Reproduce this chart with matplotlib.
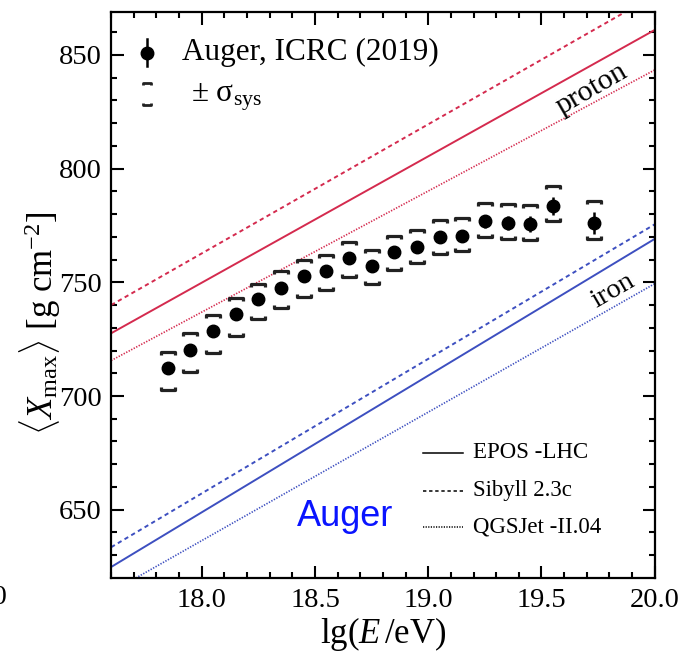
import numpy as np
import matplotlib.pyplot as plt
from matplotlib.path import Path

plt.rcParams['font.family'] = ['Liberation Serif', 'DejaVu Serif']
plt.rcParams['mathtext.fontset'] = 'custom'
plt.rcParams['mathtext.rm'] = 'Liberation Serif'
plt.rcParams['mathtext.it'] = 'Liberation Serif:italic'

# Auger <Xmax> points, ICRC 2019
lg_e = [17.85, 17.95, 18.05, 18.15, 18.25, 18.35, 18.45, 18.55, 18.65, 18.75,
        18.85, 18.95, 19.05, 19.15, 19.25, 19.35, 19.45, 19.55, 19.73]
xmax = [712.3, 720.3, 728.6, 736.0, 742.6, 747.7, 752.6, 755.2, 760.5, 757.0,
        763.3, 765.7, 769.8, 770.4, 776.8, 776.1, 775.7, 783.7, 776.1]
stat = [1.2, 1.2, 1.3, 1.3, 1.4, 1.5, 1.6, 1.7, 1.9, 2.0,
        2.2, 2.3, 2.5, 2.7, 3.0, 3.0, 3.4, 4.0, 4.7]
sys_up = [7.2, 7.3, 7.0, 6.9, 6.8, 7.1, 7.0, 6.9, 7.1, 7.0,
          7.0, 7.5, 7.6, 7.9, 8.3, 8.3, 8.3, 8.7, 9.5]
sys_low = [9.8, 9.8, 9.7, 9.5, 8.9, 9.2, 9.0, 8.7, 8.2, 7.9,
           7.7, 7.3, 7.3, 6.7, 7.0, 7.0, 7.3, 6.6, 7.0]

# hadronic model predictions (straight lines in lg E)
model_lg_e = [17.6, 20.0]
p_epos = [727.6, 861.0]
p_sibyll = [740.0, 876.3]
p_qgsjet = [715.6, 843.4]
fe_epos = [624.8, 769.1]
fe_sibyll = [633.5, 775.5]
fe_qgsjet = [613.8, 749.4]

red = '#d42a4e'
blue = '#3d4fc0'
dash = (0, (2.2, 1.8))
dot = (0, (0.8, 0.9))

fig = plt.figure(figsize=(6.82, 6.53), dpi=100)
ax = fig.add_axes([0.163, 0.115, 0.797, 0.867])

ax.plot(model_lg_e, p_epos, color=red, lw=1.4)
ax.plot(model_lg_e, p_sibyll, color=red, lw=1.4, ls=dash)
ax.plot(model_lg_e, p_qgsjet, color=red, lw=1.2, ls=dot)
ax.plot(model_lg_e, fe_epos, color=blue, lw=1.4)
ax.plot(model_lg_e, fe_sibyll, color=blue, lw=1.4, ls=dash)
ax.plot(model_lg_e, fe_qgsjet, color=blue, lw=1.2, ls=dot)

# systematic brackets
up_br = Path([(-1, -0.45), (-1, 0), (1, 0), (1, -0.45)],
             [Path.MOVETO, Path.LINETO, Path.LINETO, Path.LINETO])
lo_br = Path([(-1, 0.45), (-1, 0), (1, 0), (1, 0.45)],
             [Path.MOVETO, Path.LINETO, Path.LINETO, Path.LINETO])
x = np.array(lg_e)
y = np.array(xmax)
ax.plot(x, y + np.array(sys_up), ls='none', marker=up_br, ms=10.5,
        mec='#222222', mfc='none', mew=2.3)
ax.plot(x, y - np.array(sys_low), ls='none', marker=lo_br, ms=10.5,
        mec='#222222', mfc='none', mew=2.3)
ax.errorbar(x, y, yerr=stat, fmt='o', color='black', ms=9, elinewidth=1.8,
            capsize=0, zorder=5)

ax.set_xlim(17.6, 20.0)
ax.set_ylim(620, 869)
ax.set_xticks([18.0, 18.5, 19.0, 19.5, 20.0])
ax.set_xticks(np.arange(17.6, 20.0, 0.1), minor=True)
ax.set_yticks([650, 700, 750, 800, 850])
ax.set_yticks(np.arange(630, 870, 10), minor=True)
ax.xaxis.set_major_formatter(plt.FormatStrFormatter('%.1f'))
ax.tick_params(which='both', direction='in', top=True, right=True,
               labelsize=20.5, width=1.5)
ax.tick_params(which='major', length=9)
ax.tick_params(which='minor', length=4.5)
ax.tick_params(axis='x', pad=7)
ax.tick_params(axis='y', pad=7)
for s in ax.spines.values():
    s.set_linewidth(1.6)

ax.set_xlabel(r'lg($E\,$/eV)', fontsize=25, labelpad=2)
ax.set_ylabel(r'$\langle X_{\rm max}\rangle$ [g cm$^{-2}$]', fontsize=25)
ax.yaxis.set_label_coords(-0.089, 0.450)

ax.text(19.72, 835, 'proton', fontsize=21.5, rotation=30, ha='center', va='center')
ax.text(19.815, 746.2, 'iron', fontsize=20.5, rotation=30, ha='center', va='center')
ax.text(18.633, 646.8, 'Auger', fontsize=26, color='#0a14ff',
        family='Liberation Sans', ha='center', va='center')

# legend, data
tr = ax.transAxes
ax.plot([0.066], [0.928], 'o', color='black', ms=9, transform=tr)
ax.plot([0.066, 0.066], [0.904, 0.952], color='black', lw=1.8, transform=tr)
ax.text(0.131, 0.928, 'Auger, ICRC (2019)', fontsize=22.5, va='center', transform=tr)
pair_br = Path([(-0.35, 0.8), (-0.35, 1), (0.35, 1), (0.35, 0.8),
                (-0.35, -0.8), (-0.35, -1), (0.35, -1), (0.35, -0.8)],
               [Path.MOVETO, Path.LINETO, Path.LINETO, Path.LINETO,
                Path.MOVETO, Path.LINETO, Path.LINETO, Path.LINETO])
ax.plot([0.066], [0.855], ls='none', marker=pair_br, ms=16, mec='#222222',
        mfc='none', mew=2.0, transform=tr)
ax.text(0.146, 0.849, u'\u00b1 \u03c3$_{\\rm sys}$', fontsize=22.5, va='center', transform=tr)

# legend, models
for yy, ls, lab in [(0.221, '-', 'EPOS -LHC'), (0.154, dash, 'Sibyll 2.3c'),
                    (0.090, dot, 'QGSJet -II.04')]:
    ax.plot([0.574, 0.647], [yy, yy], color='black', lw=1.1, ls=ls, transform=tr)
    ax.text(0.665, yy, lab, fontsize=16.5, va='center', transform=tr)

fig.text(0.0117, 1 - 597 / 653, '20.0', fontsize=20.5, ha='right', va='center')

fig.savefig('out.png', dpi=100)
